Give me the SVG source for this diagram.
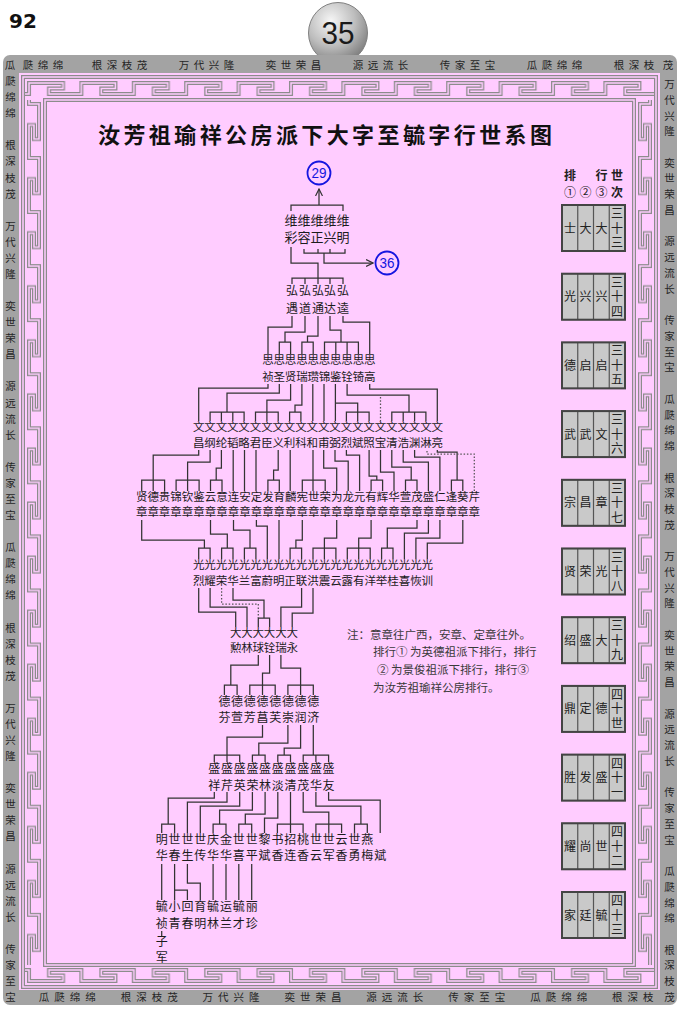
<svg xmlns="http://www.w3.org/2000/svg" width="680" height="1010" viewBox="0 0 680 1010">
<defs>
<style>
.t{font-family:"Noto Sans CJK SC","Noto Sans CJK TC",sans-serif;fill:#1c1c1c;text-anchor:middle}
.f13{font-size:13px}.f12{font-size:12px}.f11{font-size:11.5px}.f125{font-size:12.5px}
.b{font-family:"Noto Sans CJK SC",sans-serif;font-size:10.5px;fill:#262626;text-anchor:middle}
.c path{fill:none;stroke:#333;stroke-width:1.25}
.c path.d{stroke:#555;stroke-dasharray:1.5 1.8}
.kg{fill:none;stroke:#8c8c8c;stroke-width:4}
.kp{fill:none;stroke:#ffccff;stroke-width:1.5}
.cell{fill:#c9c9c9;stroke:#555;stroke-width:1.2}
.box{fill:none;stroke:#444;stroke-width:2}
.ct{font-family:"Noto Sans CJK SC",sans-serif;font-size:12px;fill:#222;text-anchor:middle}
.note{font-family:"Noto Sans CJK SC",sans-serif;font-size:11.5px;fill:#3a3a3a}
.cn{fill:none;stroke:#1515e0;stroke-width:1.8}
.cnt{font-family:"Liberation Sans",sans-serif;font-size:14px;fill:#1515e0;text-anchor:middle}
</style>
<radialGradient id="ball" cx="0.38" cy="0.3" r="0.75">
<stop offset="0" stop-color="#f6f6f6"/><stop offset="0.55" stop-color="#bdbdbd"/><stop offset="1" stop-color="#7a7a7a"/>
</radialGradient>
<marker id="ar" viewBox="0 0 8 8" refX="7" refY="4" markerWidth="8" markerHeight="8" markerUnits="userSpaceOnUse" orient="auto">
<path d="M0,0.5 L7,4 L0,7.5" fill="none" stroke="#333" stroke-width="1.2"/>
</marker>
<pattern id="kt" patternUnits="userSpaceOnUse" x="25" y="77" width="52.4" height="23">
<path class="kg" d="M-3,17 H4 V6 H38 V11.5 H24 V17 H56"/><path class="kp" d="M-3,17 H4 V6 H38 V11.5 H24 V17 H56"/>
</pattern>
<pattern id="kb" patternUnits="userSpaceOnUse" x="25" y="965" width="52.4" height="22">
<path class="kg" d="M-3,5 H4 V16 H38 V10.5 H24 V5 H56"/><path class="kp" d="M-3,5 H4 V16 H38 V10.5 H24 V5 H56"/>
</pattern>
<pattern id="kl" patternUnits="userSpaceOnUse" x="23" y="100" width="22" height="54.06">
<path class="kg" d="M6,-3 V4 H16 V39 H11 V25 H6 V58"/><path class="kp" d="M6,-3 V4 H16 V39 H11 V25 H6 V58"/>
</pattern>
<pattern id="kr" patternUnits="userSpaceOnUse" x="634" y="100" width="22" height="54.06">
<path class="kg" d="M16,-3 V4 H6 V39 H11 V25 H16 V58"/><path class="kp" d="M16,-3 V4 H6 V39 H11 V25 H16 V58"/>
</pattern>
</defs>
<rect width="680" height="1010" fill="#ffffff"/>

<g id="header">
<text x="9" y="28" font-family="DejaVu Sans" font-weight="900" font-size="20" fill="#111">92</text>
<ellipse cx="338" cy="33" rx="29.5" ry="30.5" fill="url(#ball)" stroke="#808080" stroke-width="1"/>
<text x="338" y="44" font-family="Liberation Sans" font-size="31" fill="#1a1a1a" text-anchor="middle" textLength="33" lengthAdjust="spacingAndGlyphs">35</text>
</g>

<g id="frame">
<rect x="3" y="55" width="674" height="950" rx="7" fill="#a3a3a3"/>
<rect x="19" y="73" width="641" height="917" fill="#ffccff"/>
<rect x="25" y="77" width="629" height="23" fill="url(#kt)"/>
<rect x="25" y="965" width="629" height="22" fill="url(#kb)"/>
<rect x="23" y="100" width="22" height="865" fill="url(#kl)"/>
<rect x="634" y="100" width="22" height="865" fill="url(#kr)"/>
<rect class="kg" x="23" y="77" width="633" height="910"/><rect class="kp" x="23" y="77" width="633" height="910"/>
<rect class="kg" x="45" y="100" width="589" height="865"/><rect class="kp" x="45" y="100" width="589" height="865"/>
<text class="b" x="10 28 43 58 97 112 127 142 184 199 214 229 271 286 301 316 358 373 388 403 445 460 475 490 532 547 562 577 619 634 649 668" y="69">瓜瓞绵绵根深枝茂万代兴隆奕世荣昌源远流长传家至宝瓜瓞绵绵根深枝茂</text>
<text class="b" x="44 59.5 75 90.5 125.9 141.4 156.9 172.4 207.8 223.3 238.8 254.3 289.7 305.2 320.7 336.2 371.6 387.1 402.6 418.1 453.5 469 484.5 500 535.4 550.9 566.4 581.9 617.3 632.8 648.3" y="1001">瓜瓞绵绵根深枝茂万代兴隆奕世荣昌源远流长传家至宝瓜瓞绵绵根深枝</text>
<text class="b" x="10.5 10.5 10.5 10.5 10.5 10.5 10.5 10.5 10.5 10.5 10.5 10.5 10.5 10.5 10.5 10.5 10.5 10.5 10.5 10.5 10.5 10.5 10.5 10.5 10.5 10.5 10.5 10.5 10.5 10.5 10.5 10.5 10.5 10.5 10.5 10.5 10.5 10.5 10.5 10.5 10.5 10.5 10.5 10.5 10.5 10.5 10.5" y="85.1 101.1 117.2 149.4 165.4 181.5 197.6 229.7 245.8 261.8 277.9 310.1 326.1 342.2 358.3 390.4 406.5 422.5 438.6 470.8 486.8 502.9 519 551.1 567.2 583.2 599.3 631.5 647.5 663.6 679.7 711.8 727.9 743.9 760 792.2 808.2 824.3 840.4 872.5 888.6 904.6 920.7 952.9 968.9 985 1001.1">瓞绵绵根深枝茂万代兴隆奕世荣昌源远流长传家至宝瓜瓞绵绵根深枝茂万代兴隆奕世荣昌源远流长传家至宝</text>
<text class="b" x="669.5 669.5 669.5 669.5 669.5 669.5 669.5 669.5 669.5 669.5 669.5 669.5 669.5 669.5 669.5 669.5 669.5 669.5 669.5 669.5 669.5 669.5 669.5 669.5 669.5 669.5 669.5 669.5 669.5 669.5 669.5 669.5 669.5 669.5 669.5 669.5 669.5 669.5 669.5 669.5 669.5 669.5 669.5 669.5 669.5 669.5 669.5 669.5" y="88 103.7 119.5 135.2 166.7 182.4 198.2 213.9 245.4 261.1 276.9 292.6 324.1 339.8 355.6 371.3 402.8 418.5 434.3 450 481.5 497.2 513 528.7 560.2 575.9 591.7 607.4 638.9 654.6 670.4 686.1 717.6 733.3 749.1 764.8 796.3 812 827.8 843.5 875 890.7 906.5 922.2 953.7 969.4 985.2 1000.9">万代兴隆奕世荣昌源远流长传家至宝瓜瓞绵绵根深枝茂万代兴隆奕世荣昌源远流长传家至宝瓜瓞绵绵根深枝茂</text>
</g>

<g id="title">
<text x="98" y="143" font-family="Noto Sans CJK SC,sans-serif" font-weight="bold" font-size="22" fill="#111" textLength="454" lengthAdjust="spacing">汝芳祖瑜祥公房派下大字至毓字行世系图</text>
</g>

<g id="ref29"><circle class="cn" cx="319" cy="173" r="11.5"/><text class="cnt" x="319" y="178" textLength="15" lengthAdjust="spacingAndGlyphs">29</text></g>
<g id="ref36"><circle class="cn" cx="387" cy="263" r="11.5"/><text class="cnt" x="387" y="268" textLength="15" lengthAdjust="spacingAndGlyphs">36</text></g>

<g id="gen-wei"><text class="t f13" x="291 304 317 330 343" y="224.5">维维维维维</text><text class="t f13" x="291 304 317 330 343" y="241.5">彩容正兴明</text></g>
<g id="gen-hong"><text class="t f12" x="292 305 318 330 343" y="295">弘弘弘弘弘</text><text class="t f12" x="292 305 318 330 343" y="312.5">遇道通达逵</text></g>
<g id="gen-si"><text class="t f11" x="268 279.3 290.6 301.9 313.2 324.5 335.8 347.1 358.4 369.7" y="364">思思思思思思思思思思</text><text class="t f11" x="268 279.3 290.6 301.9 313.2 324.5 335.8 347.1 358.4 369.7" y="381">祯圣贤瑞瓒锦鉴铨锜高</text></g>
<g id="gen-wen"><text class="t f11" x="198.7 210.1 221.4 232.8 244.1 255.5 266.9 278.2 289.6 300.9 312.3 323.7 335 346.4 357.7 369.1 380.5 391.8 403.2 414.6 425.9 437.3" y="431">文文文文文文文文文文文文文文文文文文文文文文</text><text class="t f11" x="198.7 210.1 221.4 232.8 244.1 255.5 266.9 278.2 289.6 300.9 312.3 323.7 335 346.4 357.7 369.1 380.5 391.8 403.2 414.6 425.9 437.3" y="447">昌纲纶韬略君臣义利科和甫弼烈斌照宝清浩渊淋亮</text></g>
<g id="gen-zhang"><text class="t f11" x="141.7 153.2 164.6 176.1 187.6 199.1 210.5 222 233.5 244.9 256.4 267.9 279.3 290.8 302.3 313.8 325.2 336.7 348.2 359.6 371.1 382.6 394 405.5 417 428.4 439.9 451.4 462.8 474.3" y="501">贤德贵锦钦鉴云意连安定发育麟宪世荣为龙元有辉华萱茂盛仁逢葵芹</text><text class="t f11" x="141.7 153.2 164.6 176.1 187.6 199.1 210.5 222 233.5 244.9 256.4 267.9 279.3 290.8 302.3 313.8 325.2 336.7 348.2 359.6 371.1 382.6 394 405.5 417 428.4 439.9 451.4 462.8 474.3" y="516">章章章章章章章章章章章章章章章章章章章章章章章章章章章章章章</text></g>
<g id="gen-guang"><text class="t f11" x="198.7 210.1 221.6 233 244.4 255.9 267.3 278.7 290.1 301.6 313 324.4 335.9 347.3 358.7 370.2 381.6 393 404.4 415.9 427.3" y="569">光光光光光光光光光光光光光光光光光光光光光</text><text class="t f11" x="198.7 210.1 221.6 233 244.4 255.9 267.3 278.7 290.1 301.6 313 324.4 335.9 347.3 358.7 370.2 381.6 393 404.4 415.9 427.3" y="585">烈耀荣华兰富蔚明正联洪震云露有洋举桂喜恢训</text></g>
<g id="gen-da"><text class="t f11" x="235.7 247 258.3 269.6 280.9 292.2" y="637">大大大大大大</text><text class="t f11" x="235.7 247 258.3 269.6 280.9 292.2" y="652">勲林球铨瑞永</text></g>
<g id="gen-de"><text class="t f12" x="224.4 237.1 249.8 262.5 275.2 287.9 300.6 313.3" y="706">德德德德德德德德</text><text class="t f12" x="224.4 237.1 249.8 262.5 275.2 287.9 300.6 313.3" y="722">芬萱芳菖芙崇润济</text></g>
<g id="gen-sheng"><text class="t f12" x="214.3 227 239.7 252.4 265.1 277.8 290.5 303.2 315.9 328.6" y="772.5">盛盛盛盛盛盛盛盛盛盛</text><text class="t f12" x="214.3 227 239.7 252.4 265.1 277.8 290.5 303.2 315.9 328.6" y="789.5">祥芹英荣林淡清茂华友</text></g>
<g id="gen-shi"><text class="t f12" x="161.7 174.6 187.4 200.3 213.1 226 238.8 251.7 264.5 277.4 290.2 303.1 315.9 328.8 341.6 354.5 367.3" y="843.5">明世世世庆金世世黎书招桃世世云世燕</text><text class="t f12" x="161.7 174.6 187.4 200.3 213.1 226 238.8 251.7 264.5 277.4 290.2 303.1 315.9 328.8 341.6 354.5 367.3 380.2" y="860">华春生传华华喜平斌香连香云军香勇梅斌</text></g>
<g id="gen-yu"><text class="t f12" x="161.7 174.6 187.4 200.3 213.1 226 238.8 251.7" y="911">毓小回育毓运毓丽</text><text class="t f12" x="161.7 174.6 187.4 200.3 213.1 226 238.8 251.7" y="927.5">祯青春明林兰才珍</text></g>
<g id="gen-zi"><text class="t f12" x="161.7" y="946">子</text><text class="t f12" x="161.7" y="961.5">军</text></g>

<g id="connectors" class="c">
<path d="M319,205 V189" marker-end="url(#ar)"/>
<path d="M291,211 V205 H343 V211"/>
<path d="M291,247 V263 H318 V278"/>
<path d="M304,249 V253 H345 V249 M318,249 V253 M330,249 V253"/>
<path d="M324,253 V263 H373" marker-end="url(#ar)"/>
<path d="M292,284 V278 H343 V284 M305,278 V284 M318,278 V284 M330,278 V284"/>
<path d="M292,316 V327 H268 V354"/>
<path d="M305,316 V332 H285 V342 M279.3,354 V342 H290.6 V354"/>
<path d="M318,316 V336 H307.5 V342 M301.9,354 V342 H313.2 V354"/>
<path d="M330,316 V330 H341 V342 M324.5,354 V342 H358.4 V354 M335.8,342 V354 M347.1,342 V354"/>
<path d="M343,316 V322 H369.7 V354"/>
<path d="M268,384 V388 H198.7 V421"/>
<path d="M279.3,384 V393 H227 V412 M210.1,421 V412 H244.1 V421 M221.4,412 V421 M232.8,412 V421"/>
<path d="M290.6,384 V400 H266.9 V421 M255.5,421 V412 H278.2 V421"/>
<path d="M301.9,384 V405 H295 V412 M289.6,421 V412 H300.9 V421"/>
<path d="M312.8,384 V421"/>
<path d="M324,384 V421"/>
<path d="M335.4,384 V421 M335.4,403 H357.7 V421 M346.4,421 V412 H369.1 V421"/>
<path d="M347.1,384 V395 H409 V412 M391.8,421 V412 H425.9 V421 M403.2,412 V421 M414.6,412 V421"/>
<path d="M369.7,384 V389 H437.3 V421"/>
<path class="d" d="M380.5,397 V421"/>
<path d="M198.7,450 V455 H153.2 V491 M141.7,491 V480 H164.6 V491"/>
<path d="M210.1,450 V462 H187.6 V491 M176.1,491 V480 H199.1 V491"/>
<path d="M221.4,450 V468 H216.2 V480 M210.5,491 V480 H222 V491"/>
<path d="M233.2,450 V491"/>
<path d="M244.5,450 V491"/>
<path d="M256,450 V491"/>
<path d="M278.2,450 V470 H273.6 V480 M267.9,491 V480 H279.3 V491"/>
<path d="M290.2,450 V491"/>
<path d="M313,450 V491 M302.3,491 V480 H325.2 V491"/>
<path d="M323.7,450 V468 H336.7 V491"/>
<path d="M335,450 V461 H348.2 V491"/>
<path d="M346.4,450 V455 H359.6 V491"/>
<path d="M369.1,450 V476 H376.8 V480 M371.1,491 V480 H382.6 V491"/>
<path d="M380.5,450 V472 H394 V491"/>
<path d="M391.8,450 V467 H411.2 V480 M405.5,491 V480 H417 V491"/>
<path d="M403.2,450 V462 H428.4 V491"/>
<path d="M414.6,450 V457 H439.9 V491"/>
<path d="M437.3,450 V452 H457.1 V480 M451.4,491 V480 H462.8 V491"/>
<path class="d" d="M427,451 V454 H474.3 V491"/>
<path d="M141.7,520 V540 H204.4 V548 M198.7,559 V548 H210.1 V559"/>
<path d="M210.5,520 V534 H227.3 V548 M221.6,559 V548 H233 V559"/>
<path d="M233.5,520 V530 H250 V548 M244.4,559 V548 H255.9 V559"/>
<path d="M256.4,520 V526 H267.3 V559"/>
<path d="M279,520 V559"/>
<path d="M302.3,520 V540 H295.9 V548 M290.1,559 V548 H301.6 V559"/>
<path d="M336.7,520 V538 H324.4 V559 M313,559 V548 H335.9 V559"/>
<path d="M371.1,520 V538 H358.7 V559 M347.3,559 V548 H370.2 V559"/>
<path d="M417,520 V528 H387.3 V548 M381.6,559 V548 H393 V559"/>
<path d="M428.4,520 V533 H404.4 V559"/>
<path d="M439.9,520 V538 H415.9 V559"/>
<path d="M462.8,520 V543 H427.3 V559"/>
<path d="M198.7,588 V612 H235.7 V627"/>
<path d="M210.1,588 V607 H247 V627"/>
<path d="M233,588 V600 H264 V618 M258.3,627 V618 H269.6 V627"/>
<path class="d" d="M221.6,588 V604 H258.3 V618"/>
<path d="M301.6,588 V607 H280.9 V627"/>
<path d="M313,588 V613 H292.2 V627"/>
<path d="M258.3,655 V665 H230.8 V685 M224.4,695 V685 H237.1 V695"/>
<path d="M269.6,655 V673 H262.5 V695 M249.8,695 V685 H275.2 V695"/>
<path d="M280.9,655 V668 H300.6 V695 M287.9,695 V685 H313.3 V695"/>
<path d="M262.5,725 V737 H227 V762 M214.3,762 V755 H239.7 V762"/>
<path d="M287.9,725 V743 H258.8 V755 M252.4,762 V755 H265.1 V762"/>
<path d="M300.6,725 V748 H284.2 V755 M277.8,762 V755 H290.5 V762"/>
<path d="M313.3,725 V755 M303.2,762 V755 H328.6 V762 M315.9,755 V762"/>
<path d="M214.3,792 V798 H168.2 V824 M161.7,833 V824 H174.6 V833"/>
<path d="M227,792 V802 H187.4 V833"/>
<path d="M239.7,792 V806 H200.3 V833"/>
<path d="M252.4,792 V810 H219.6 V824 M213.1,833 V824 H226 V833"/>
<path d="M265.1,792 V814 H245.3 V824 M238.8,833 V824 H251.7 V833"/>
<path d="M277.8,792 V818 H264.5 V833"/>
<path d="M290.5,792 V833 M277.4,833 V824 H303.1 V833"/>
<path d="M303.2,792 V812 H328.8 V833 M315.9,833 V824 H341.6 V833"/>
<path d="M315.9,792 V806 H360.9 V824 M354.5,833 V824 H367.3 V833"/>
<path d="M328.6,792 V800 H380.2 V833"/>
<path d="M161.7,864 V900"/>
<path d="M174.6,864 V900 M174.6,890 H187.4 V900"/>
<path d="M187.4,864 V883 H200.3 V900"/>
<path d="M213.1,864 V900 M226,864 V900 M238.8,864 V900 M251.7,864 V900"/>
<path d="M161.7,931 V936"/>
</g>

<g id="legend-head">
<text class="ct" font-weight="bold" x="569.9" y="180">排</text><text class="ct" font-weight="bold" x="601.4" y="180">行</text><text class="ct" font-weight="bold" x="617.1" y="180">世</text>
<text class="ct" x="569.9 585.6 601.4" y="197">①②③</text><text class="ct" font-weight="bold" x="617.1" y="197">次</text>
</g>
<g id="gen33" transform="translate(0,205)"><rect class="cell" x="562" y="0" width="63" height="46"/><path class="cell" d="M577.75,0 V46 M593.5,0 V46 M609.25,0 V46"/><rect class="box" x="562" y="0" width="63" height="46"/><text class="ct" x="569.9 585.6 601.4" y="27.5">士大大</text><text class="ct" x="617.1 617.1 617.1" y="13 27.5 42">三十三</text></g>
<g id="gen34" transform="translate(0,273.7)"><rect class="cell" x="562" y="0" width="63" height="46"/><path class="cell" d="M577.75,0 V46 M593.5,0 V46 M609.25,0 V46"/><rect class="box" x="562" y="0" width="63" height="46"/><text class="ct" x="569.9 585.6 601.4" y="27.5">光兴兴</text><text class="ct" x="617.1 617.1 617.1" y="13 27.5 42">三十四</text></g>
<g id="gen35" transform="translate(0,342.4)"><rect class="cell" x="562" y="0" width="63" height="46"/><path class="cell" d="M577.75,0 V46 M593.5,0 V46 M609.25,0 V46"/><rect class="box" x="562" y="0" width="63" height="46"/><text class="ct" x="569.9 585.6 601.4" y="27.5">德启启</text><text class="ct" x="617.1 617.1 617.1" y="13 27.5 42">三十五</text></g>
<g id="gen36" transform="translate(0,411.1)"><rect class="cell" x="562" y="0" width="63" height="46"/><path class="cell" d="M577.75,0 V46 M593.5,0 V46 M609.25,0 V46"/><rect class="box" x="562" y="0" width="63" height="46"/><text class="ct" x="569.9 585.6 601.4" y="27.5">武武文</text><text class="ct" x="617.1 617.1 617.1" y="13 27.5 42">三十六</text></g>
<g id="gen37" transform="translate(0,479.8)"><rect class="cell" x="562" y="0" width="63" height="46"/><path class="cell" d="M577.75,0 V46 M593.5,0 V46 M609.25,0 V46"/><rect class="box" x="562" y="0" width="63" height="46"/><text class="ct" x="569.9 585.6 601.4" y="27.5">宗昌章</text><text class="ct" x="617.1 617.1 617.1" y="13 27.5 42">三十七</text></g>
<g id="gen38" transform="translate(0,548.5)"><rect class="cell" x="562" y="0" width="63" height="46"/><path class="cell" d="M577.75,0 V46 M593.5,0 V46 M609.25,0 V46"/><rect class="box" x="562" y="0" width="63" height="46"/><text class="ct" x="569.9 585.6 601.4" y="27.5">贤荣光</text><text class="ct" x="617.1 617.1 617.1" y="13 27.5 42">三十八</text></g>
<g id="gen39" transform="translate(0,617.2)"><rect class="cell" x="562" y="0" width="63" height="46"/><path class="cell" d="M577.75,0 V46 M593.5,0 V46 M609.25,0 V46"/><rect class="box" x="562" y="0" width="63" height="46"/><text class="ct" x="569.9 585.6 601.4" y="27.5">绍盛大</text><text class="ct" x="617.1 617.1 617.1" y="13 27.5 42">三十九</text></g>
<g id="gen40" transform="translate(0,685.9)"><rect class="cell" x="562" y="0" width="63" height="46"/><path class="cell" d="M577.75,0 V46 M593.5,0 V46 M609.25,0 V46"/><rect class="box" x="562" y="0" width="63" height="46"/><text class="ct" x="569.9 585.6 601.4" y="27.5">鼎定德</text><text class="ct" x="617.1 617.1 617.1" y="13 27.5 42">四十世</text></g>
<g id="gen41" transform="translate(0,754.6)"><rect class="cell" x="562" y="0" width="63" height="46"/><path class="cell" d="M577.75,0 V46 M593.5,0 V46 M609.25,0 V46"/><rect class="box" x="562" y="0" width="63" height="46"/><text class="ct" x="569.9 585.6 601.4" y="27.5">胜发盛</text><text class="ct" x="617.1 617.1 617.1" y="13 27.5 42">四十一</text></g>
<g id="gen42" transform="translate(0,823.3)"><rect class="cell" x="562" y="0" width="63" height="46"/><path class="cell" d="M577.75,0 V46 M593.5,0 V46 M609.25,0 V46"/><rect class="box" x="562" y="0" width="63" height="46"/><text class="ct" x="569.9 585.6 601.4" y="27.5">耀尚世</text><text class="ct" x="617.1 617.1 617.1" y="13 27.5 42">四十二</text></g>
<g id="gen43" transform="translate(0,892)"><rect class="cell" x="562" y="0" width="63" height="46"/><path class="cell" d="M577.75,0 V46 M593.5,0 V46 M609.25,0 V46"/><rect class="box" x="562" y="0" width="63" height="46"/><text class="ct" x="569.9 585.6 601.4" y="27.5">家廷毓</text><text class="ct" x="617.1 617.1 617.1" y="13 27.5 42">四十三</text></g>

<g id="note">
<text class="note" x="347" y="639">注：意章往广西，安章、定章往外。</text>
<text class="note" x="373" y="656">排行① 为英德祖派下排行，排行</text>
<text class="note" x="377" y="674">② 为景俊祖派下排行，排行③</text>
<text class="note" x="373" y="692">为汝芳祖瑜祥公房排行。</text>
</g>
</svg>
